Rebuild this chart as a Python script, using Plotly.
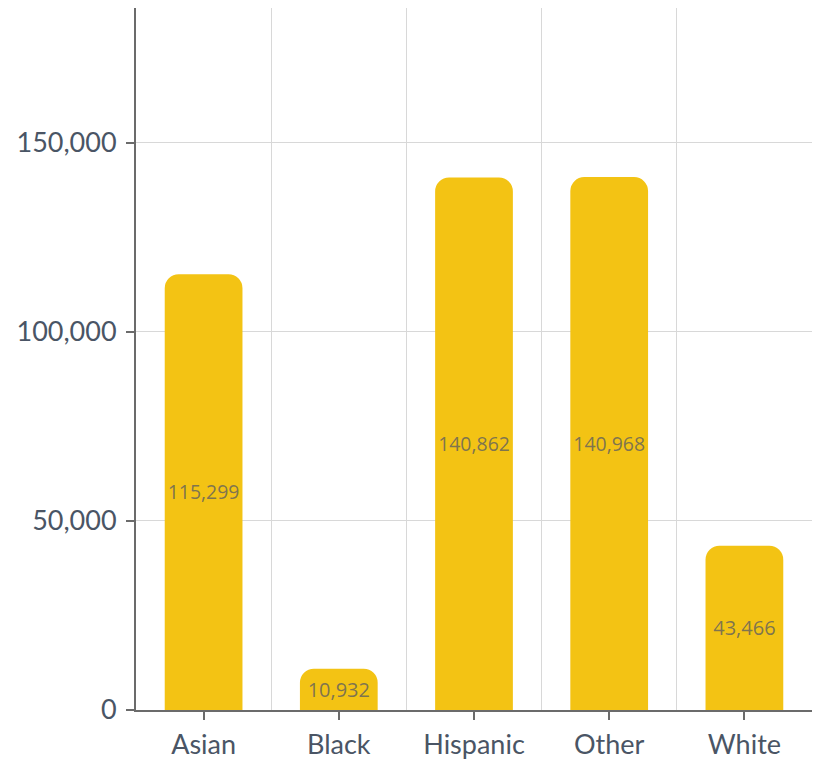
import plotly.graph_objects as go

# Population by race / ethnicity
categories = ["Asian", "Black", "Hispanic", "Other", "White"]
values = [115299, 10932, 140862, 140968, 43466]
y_ticks = [0, 50000, 100000, 150000]
y_tick_labels = ["0", "50,000", "100,000", "150,000"]

positions = list(range(len(categories)))

fig = go.Figure(
    go.Bar(
        x=positions,
        y=values,
        width=0.575,
        marker=dict(color="#F3C314", cornerradius=14, line=dict(width=0)),
        text=[f"{v:,}" for v in values],
        textposition="inside",
        textangle=0,
        insidetextanchor="middle",
        textfont=dict(family="Open Sans", size=20, color="rgba(95,95,95,0.8)"),
        constraintext="none",
        cliponaxis=False,
        hoverinfo="skip",
    )
)

axis_font = dict(family="Lato", size=27, color="#4A5565")

fig.update_layout(
    width=822,
    height=761,
    margin=dict(l=136, r=10, t=8, b=51),
    paper_bgcolor="white",
    plot_bgcolor="white",
    showlegend=False,
    font=dict(family="Lato"),
    xaxis=dict(
        range=[-0.5, 4.5],
        tickmode="array",
        tickvals=positions,
        ticktext=categories,
        tickfont=axis_font,
        ticks="outside",
        ticklen=8,
        tickwidth=2,
        tickcolor="#6B6B6B",
        showline=True,
        linecolor="#6B6B6B",
        linewidth=2,
        showgrid=False,
        zeroline=False,
        fixedrange=True,
        automargin=False,
        ticklabelstandoff=2,
        minor=dict(
            tick0=0.5,
            dtick=1,
            showgrid=True,
            gridcolor="#D8D8D8",
            gridwidth=1,
            ticks="",
        ),
    ),
    yaxis=dict(
        range=[0, 185700],
        tickmode="array",
        tickvals=y_ticks,
        ticktext=y_tick_labels,
        tickfont=axis_font,
        ticks="outside",
        ticklen=8,
        tickwidth=2,
        tickcolor="#6B6B6B",
        showline=True,
        linecolor="#6B6B6B",
        linewidth=2,
        showgrid=True,
        gridcolor="#D8D8D8",
        gridwidth=1,
        zeroline=False,
        fixedrange=True,
        automargin=False,
        ticklabelstandoff=4,
    ),
)

fig.write_html("out.html")
